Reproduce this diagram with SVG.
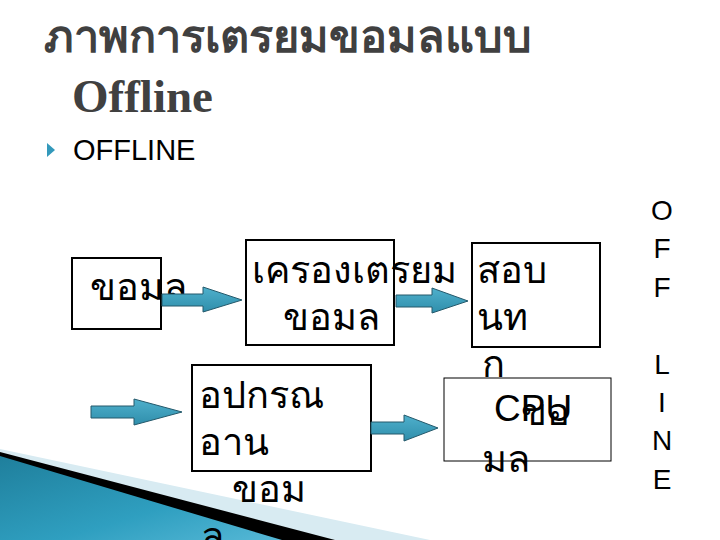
<svg xmlns="http://www.w3.org/2000/svg" width="720" height="540" viewBox="0 0 720 540">
<defs>
<linearGradient id="teal" x1="0" y1="0" x2="1" y2="1">
<stop offset="0" stop-color="#1f7f9c"/>
<stop offset="0.6" stop-color="#2f9fc0"/>
<stop offset="1" stop-color="#56b8d6"/>
</linearGradient>
<linearGradient id="arr" x1="0" y1="0" x2="0" y2="1">
<stop offset="0" stop-color="#4fb0cc"/>
<stop offset="1" stop-color="#2f8eab"/>
</linearGradient>
<style>
.th{font-family:"Noto Sans","DejaVu Sans",sans-serif;font-size:38px;fill:#000}
.box{fill:none;stroke:#000;stroke-width:2}
.arrow{fill:url(#arr);stroke:#24596b;stroke-width:1}
.lat{font-family:"Liberation Sans",Arial,sans-serif;fill:#000}
</style>
</defs>
<rect width="720" height="540" fill="#fff"/>
<g id="decor">
<polygon points="0,449 430,540 0,540" fill="#d8ebf2"/>
<polygon points="0,452 335,540 0,540" fill="#000"/>
<polygon points="0,456 282,540 0,540" fill="url(#teal)"/>
</g>
<g id="title">
<text x="44" y="52" style="font-family:'Noto Sans','DejaVu Sans',sans-serif;font-weight:bold;font-size:45px;fill:#404040">ภาพการเตรยมขอมลแบบ</text>
<text x="72" y="112" style="font-family:'Liberation Serif','Times New Roman',serif;font-weight:bold;font-size:47px;fill:#404040">Offline</text>
</g>
<g id="bullet">
<polygon points="47,143 55,150 47,157" fill="#3399bb"/>
<text x="73" y="160" class="lat" font-size="29">OFFLINE</text>
</g>
<g id="node-data">
<rect class="box" x="72" y="258" width="89" height="71"/>
<text class="th" x="90" y="300">ขอมล</text>
</g>
<g id="node-prep">
<rect class="box" x="246" y="240" width="148" height="105"/>
<text class="th" x="252" y="283">เครองเตรยม</text>
<text class="th" x="283" y="330">ขอมล</text>
</g>
<g id="node-store">
<rect class="box" x="472" y="243" width="128" height="104"/>
<text class="th" x="477" y="283">สอบ</text>
<text class="th" x="477" y="330">นท</text>
<text class="th" x="482" y="377">ก</text>
</g>
<g id="node-reader">
<rect class="box" x="192" y="365" width="179" height="106"/>
<text class="th" x="199" y="408">อปกรณ</text>
<text class="th" x="199" y="455">อาน</text>
<text class="th" x="232" y="502">ขอม</text>
<text class="th" x="201" y="549">ล</text>
</g>
<g id="node-cpu">
<rect x="444" y="378" width="167" height="83" fill="none" stroke="#000" stroke-width="1"/>
<text class="lat" x="494" y="421" font-size="37">CPU</text>
<text class="th" x="521" y="425">ขอ</text>
<text class="th" x="482" y="472">มล</text>
</g>
<g id="connectors">
<polygon class="arrow" points="162,294 203,294 203,287 242,300 203,312 203,306 162,306"/>
<polygon class="arrow" points="396,295 432,295 432,288 468,301 432,313 432,307 396,307"/>
<polygon class="arrow" points="91,406 134,406 134,399 182,412 134,425 134,418 91,418"/>
<polygon class="arrow" points="371,422 404,422 404,415 438,428 404,441 404,434 371,434"/>
</g>
<g id="vertical" class="lat" font-size="28" text-anchor="middle">
<text x="662" y="220">O</text>
<text x="662" y="258">F</text>
<text x="662" y="297">F</text>
<text x="662" y="374">L</text>
<text x="662" y="412">I</text>
<text x="662" y="450">N</text>
<text x="662" y="489">E</text>
</g>
</svg>
